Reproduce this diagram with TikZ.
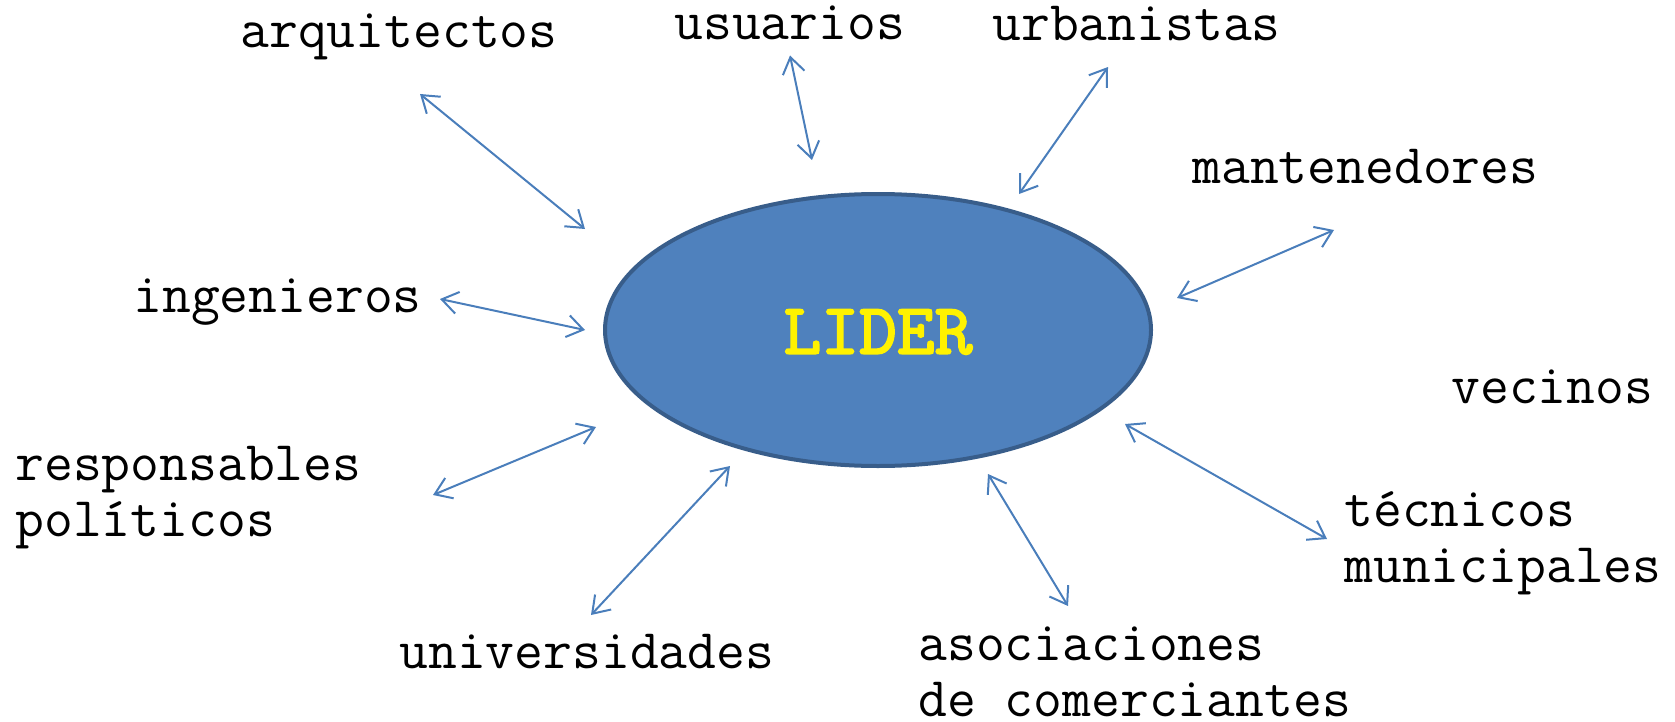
\documentclass[tikz,border=0pt]{standalone}
\usepackage{fontspec}
\newfontfamily\liderfont[FakeBold=2.5]{lmmono10-regular.otf}
\usetikzlibrary{arrows.meta,shapes.geometric}
\definecolor{arrowblue}{HTML}{4A7EBB}
\definecolor{ellfill}{HTML}{4F81BD}
\definecolor{elldraw}{HTML}{385D8A}
\tikzset{
  lbl/.style={anchor=base west,inner sep=0pt,font=\ttfamily\fontsize{28pt}{28pt}\selectfont,align=left},
  link/.style={arrowblue,line width=1pt,{Straight Barb[length=8pt,width=11pt]}-{Straight Barb[length=8pt,width=11pt]}}
}
\begin{document}
\begin{tikzpicture}[x=0.5pt,y=-0.5pt]
\useasboundingbox (0,0) rectangle (1675,722);
\node[ellipse,fill=ellfill,draw=elldraw,line width=2pt,minimum width=546*0.5pt,minimum height=272*0.5pt,inner sep=0pt] (lider) at (878,330) {};
\node[font=\liderfont\fontsize{36pt}{40pt}\selectfont,text=yellow] (lidertext) at (878,332) {LIDER};

\node[lbl] (arq) at (240,48) {arquitectos};
\node[lbl] (usu) at (674,40) {usuarios};
\node[lbl] (urb) at (992,41) {urbanistas};
\node[lbl] (man) at (1192,184) {mantenedores};
\node[lbl] (ing) at (133,312) {ingenieros};
\node[lbl] (vec) at (1451,403) {vecinos};
\node[lbl] (res) at (15,536) {responsables\\pol\'iticos};
\node[lbl] (uni) at (399,668) {universidades};
\node[lbl] (aso) at (918,716) {asociaciones\\de comerciantes};
\node[lbl] (tec) at (1344,582) {t\'ecnicos\\municipales};

\coordinate (a1) at (420,94);   \coordinate (a2) at (585,229);
\coordinate (b1) at (790,55.5); \coordinate (b2) at (812,160);
\coordinate (c1) at (1108,67);  \coordinate (c2) at (1019,194);
\coordinate (d1) at (1334,230); \coordinate (d2) at (1177,298);
\coordinate (e1) at (440,299);  \coordinate (e2) at (585,330);
\coordinate (f1) at (433,495);  \coordinate (f2) at (596,427);
\coordinate (g1) at (591,615);  \coordinate (g2) at (730,466);
\coordinate (h1) at (1068,606); \coordinate (h2) at (988,474);
\coordinate (i1) at (1327,539); \coordinate (i2) at (1125,424);

\draw[link] (a1) -- (a2);
\draw[link] (b1) -- (b2);
\draw[link] (c1) -- (c2);
\draw[link] (d1) -- (d2);
\draw[link] (e1) -- (e2);
\draw[link] (f1) -- (f2);
\draw[link] (g1) -- (g2);
\draw[link] (h1) -- (h2);
\draw[link] (i1) -- (i2);
\end{tikzpicture}
\end{document}
